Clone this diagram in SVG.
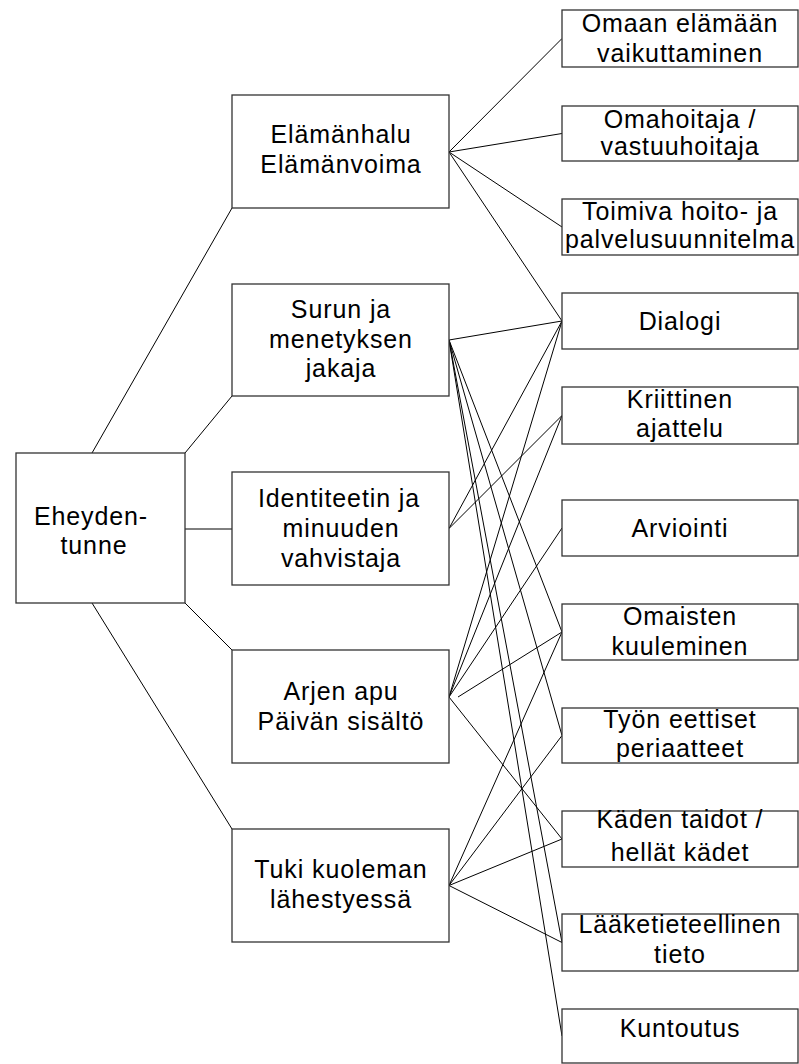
<svg xmlns="http://www.w3.org/2000/svg" width="799" height="1064" viewBox="0 0 799 1064">
<style>
.box{fill:#fff;stroke:#333;stroke-width:1.3}
.c line{stroke:#000;stroke-width:1}
text{font-family:"Liberation Sans",Arial,sans-serif;font-size:25px;fill:#000;text-anchor:middle;letter-spacing:0.9px}
</style>
<rect width="799" height="1064" fill="#fff"/>
<g class="c" id="connectors">
<line x1="92" y1="453" x2="232" y2="208"/>
<line x1="185" y1="453" x2="232" y2="396"/>
<line x1="185" y1="529" x2="232" y2="529"/>
<line x1="185" y1="603" x2="232" y2="650"/>
<line x1="92" y1="603" x2="232" y2="829"/>
<line x1="449" y1="152" x2="562" y2="38.5"/>
<line x1="449" y1="152" x2="562" y2="133.5"/>
<line x1="449" y1="152" x2="562" y2="227"/>
<line x1="449" y1="152" x2="562" y2="321"/>
<line x1="449" y1="340" x2="562" y2="321"/>
<line x1="449" y1="340" x2="562" y2="632"/>
<line x1="449" y1="340" x2="562" y2="735.5"/>
<line x1="449" y1="340" x2="562" y2="942.5"/>
<line x1="449" y1="340" x2="562" y2="1036"/>
<line x1="449" y1="528.5" x2="562" y2="321"/>
<line x1="449" y1="528.5" x2="562" y2="415.5"/>
<line x1="449" y1="697" x2="562" y2="321"/>
<line x1="449" y1="697" x2="562" y2="415.5"/>
<line x1="449" y1="697" x2="562" y2="528"/>
<line x1="458" y1="697" x2="562" y2="632"/>
<line x1="449" y1="697" x2="562" y2="839"/>
<line x1="449" y1="885.5" x2="562" y2="632"/>
<line x1="449" y1="885.5" x2="562" y2="735.5"/>
<line x1="449" y1="885.5" x2="562" y2="839"/>
<line x1="449" y1="885.5" x2="562" y2="942.5"/>
</g>
<g id="eheyden"><rect class="box" x="16" y="453" width="169" height="150"/><text x="91" y="525">Eheyden-</text><text x="94" y="554">tunne</text></g>
<g id="elamanhalu"><rect class="box" x="232" y="95" width="217" height="113"/><text x="341" y="143">Elämänhalu</text><text x="341" y="173">Elämänvoima</text></g>
<g id="surun"><rect class="box" x="232" y="284" width="217" height="112"/><text x="341" y="318">Surun ja</text><text x="341" y="348">menetyksen</text><text x="341" y="377">jakaja</text></g>
<g id="identiteetin"><rect class="box" x="232" y="472" width="217" height="113"/><text x="339" y="507">Identiteetin ja</text><text x="341" y="537">minuuden</text><text x="341" y="567">vahvistaja</text></g>
<g id="arjen"><rect class="box" x="232" y="650" width="217" height="113"/><text x="341" y="700">Arjen apu</text><text x="341" y="730">Päivän sisältö</text></g>
<g id="tuki"><rect class="box" x="232" y="829" width="217" height="113"/><text x="341" y="878">Tuki kuoleman</text><text x="341" y="908">lähestyessä</text></g>
<g id="omaan"><rect class="box" x="562" y="10" width="236" height="57"/><text x="680" y="32">Omaan elämään</text><text x="680" y="62">vaikuttaminen</text></g>
<g id="omahoitaja"><rect class="box" x="562" y="106" width="236" height="55"/><text x="680" y="128">Omahoitaja /</text><text x="680" y="155">vastuuhoitaja</text></g>
<g id="toimiva"><rect class="box" x="562" y="199" width="236" height="56"/><text x="680" y="220">Toimiva hoito- ja</text><text x="680" y="248">palvelusuunnitelma</text></g>
<g id="dialogi"><rect class="box" x="562" y="293" width="236" height="56"/><text x="680" y="330">Dialogi</text></g>
<g id="kriittinen"><rect class="box" x="562" y="387" width="236" height="57"/><text x="680" y="408">Kriittinen</text><text x="680" y="437">ajattelu</text></g>
<g id="arviointi"><rect class="box" x="562" y="500" width="236" height="56"/><text x="680" y="537">Arviointi</text></g>
<g id="omaisten"><rect class="box" x="562" y="604" width="236" height="56"/><text x="680" y="625">Omaisten</text><text x="680" y="655">kuuleminen</text></g>
<g id="tyon"><rect class="box" x="562" y="708" width="236" height="55"/><text x="680" y="728">Työn eettiset</text><text x="680" y="757">periaatteet</text></g>
<g id="kaden"><rect class="box" x="562" y="811" width="236" height="56"/><text x="680" y="828">Käden taidot /</text><text x="680" y="861">hellät kädet</text></g>
<g id="laake"><rect class="box" x="562" y="914" width="236" height="57"/><text x="680" y="933">Lääketieteellinen</text><text x="680" y="963">tieto</text></g>
<g id="kuntoutus"><rect class="box" x="562" y="1009" width="236" height="54"/><text x="680" y="1037">Kuntoutus</text></g>
</svg>
